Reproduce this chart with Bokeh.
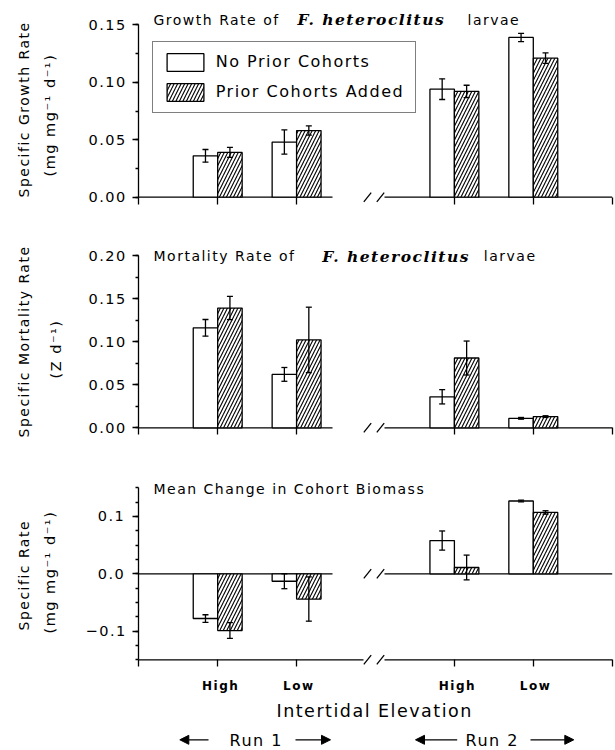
import math
from bokeh.plotting import figure
from bokeh.layouts import column
from bokeh.models import (Range1d, FixedTicker, CustomJSTickFormatter, Label, Legend,
                          LegendItem, Whisker, TeeHead, ColumnDataSource, Arrow,
                          NormalHead, InlineStyleSheet)
from bokeh.embed import file_html
from bokeh.resources import INLINE

# ---------------- data ----------------
runs = ["Run 1", "Run 1", "Run 2", "Run 2"]
elevations = ["High", "Low", "High", "Low"]
series_labels = ["No Prior Cohorts", "Prior Cohorts Added"]

growth_none = [0.036, 0.048, 0.094, 0.139]
growth_none_se = [0.0055, 0.0105, 0.009, 0.0036]
growth_prior = [0.039, 0.058, 0.092, 0.121]
growth_prior_se = [0.0044, 0.004, 0.0054, 0.0045]

mortality_none = [0.116, 0.062, 0.036, 0.011]
mortality_none_se = [0.0097, 0.008, 0.0083, 0.001]
mortality_prior = [0.139, 0.102, 0.081, 0.013]
mortality_prior_se = [0.0135, 0.038, 0.0197, 0.001]

biomass_none = [-0.078, -0.013, 0.058, 0.127]
biomass_none_se = [0.0066, 0.013, 0.0167, 0.0015]
biomass_prior = [-0.099, -0.044, 0.011, 0.107]
biomass_prior_se = [0.0138, 0.0386, 0.0216, 0.003]

growth_ticks = [0.0, 0.05, 0.10, 0.15]
mortality_ticks = [0.0, 0.05, 0.10, 0.15, 0.20]
biomass_ticks = [-0.1, 0.0, 0.1]

# ---------------- layout constants (page pixels) ----------------
FONT = "DejaVu Sans"
SERIF = "DejaVu Serif"
INK = "#000000"
W = 615
PX_X0, PX_X6 = 138.3, 611.7          # page x of the x = 0 and x = 6 ends of the axis
X_LO, X_HI = 0.0, 6.0
PX_X = (PX_X6 - PX_X0) / (X_HI - X_LO)
BAR_W = 0.31
LW = 1.3

run_names = ["Run 1", "Run 2"]
elev_names = ["High", "Low"]
centers = [1 + elev_names.index(e) + 3 * run_names.index(r) for r, e in zip(runs, elevations)]


def dx(px):
    """page x pixel -> data x"""
    return X_LO + (px - PX_X0) / PX_X


BREAK_SLASHES = [dx(367), dx(380)]
LEFT_STOP = dx(332)
RIGHT_START = dx(384)
BOTTOM_LEFT_STOP = dx(363)


def minor_between(lo, hi, step=0.025):
    n = int(round((hi - lo) / step))
    return [round(lo + i * step, 4) for i in range(n + 1)]


class Panel:
    def __init__(self, fig_top, fig_h, hi_px, lo_px, lo, hi):
        self.fig_top, self.fig_h = fig_top, fig_h
        self.hi_px, self.lo_px = hi_px, lo_px
        self.lo, self.hi = lo, hi
        self.ppu = (lo_px - hi_px) / (hi - lo)

    def dy(self, py):
        return self.hi - (py - self.hi_px) / self.ppu


def add_label(p, x, y, text, size, angle=0.0, align="left", baseline="middle",
              font=FONT, style="normal"):
    p.add_layout(Label(x=x, y=y, text=text, text_font=font, text_font_size=f"{size}px",
                       text_font_style=style, angle=angle, text_align=align,
                       text_baseline=baseline, text_color=INK))


def broken_line(p, y, stop, ppu):
    p.segment(x0=[X_LO, RIGHT_START], y0=[y, y], x1=[stop, X_HI], y1=[y, y],
              line_color=INK, line_width=LW)
    ddx = 3.7 / PX_X
    ddy = 4.6 / ppu
    p.segment(x0=[b - ddx for b in BREAK_SLASHES], y0=[y - ddy] * 2,
              x1=[b + ddx for b in BREAK_SLASHES], y1=[y + ddy] * 2,
              line_color=INK, line_width=LW)


def make_panel(g, major, digits, none_v, none_e, prior_v, prior_e, xlabels):
    ppu = g.ppu
    y_top = g.hi + (g.hi_px - g.fig_top) / ppu
    y_bot = g.lo - (g.fig_top + g.fig_h - g.lo_px) / ppu
    p = figure(width=W, height=g.fig_h, x_range=Range1d(dx(0), dx(W)),
               y_range=Range1d(y_bot, y_top),
               output_backend="svg", toolbar_location=None,
               min_border_left=0, min_border_right=0, min_border_top=0, min_border_bottom=0)
    p.grid.visible = False
    p.outline_line_color = None
    p.background_fill_color = "white"
    p.border_fill_color = "white"

    ya = p.yaxis[0]
    ya.fixed_location = X_LO
    ya.bounds = (g.lo, g.hi)
    ya.ticker = FixedTicker(ticks=major, minor_ticks=minor_between(g.lo, g.hi))
    ya.formatter = CustomJSTickFormatter(args=dict(d=digits),
                                         code="return tick.toFixed(d).replace('-', '\u2212');")
    ya.axis_line_color = INK
    ya.axis_line_width = LW
    ya.major_tick_line_color = INK
    ya.major_tick_line_width = LW
    ya.minor_tick_line_color = INK
    ya.minor_tick_line_width = LW
    ya.major_tick_out = 6
    ya.major_tick_in = 0
    ya.minor_tick_out = 3
    ya.minor_tick_in = 0
    ya.major_label_standoff = 12
    ya.major_label_text_font = FONT
    ya.major_label_text_font_size = "14.5px"
    ya.major_label_text_color = INK

    xa = p.xaxis[0]
    xa.fixed_location = g.lo
    xa.axis_line_color = None
    xa.ticker = FixedTicker(ticks=[X_LO] + centers + [X_HI], minor_ticks=[])
    xa.formatter = CustomJSTickFormatter(
        args=dict(pos=centers, labels=xlabels),
        code="const i = pos.indexOf(tick); return i < 0 ? '' : labels[i];")
    xa.major_tick_line_color = INK
    xa.major_tick_line_width = LW
    xa.minor_tick_line_color = None
    xa.major_tick_out = 7
    xa.major_tick_in = 0
    xa.major_label_standoff = 12
    xa.major_label_text_font = FONT
    xa.major_label_text_font_size = "12px"
    xa.major_label_text_font_style = "bold"
    xa.major_label_text_color = INK

    broken_line(p, 0.0, LEFT_STOP, ppu)

    xs_none = [c - BAR_W / 2 for c in centers]
    xs_prior = [c + BAR_W / 2 for c in centers]
    src = ColumnDataSource(dict(
        xn=xs_none, xp=xs_prior, vn=none_v, vp=prior_v,
        un=[v + e for v, e in zip(none_v, none_e)], ln=[v - e for v, e in zip(none_v, none_e)],
        up=[v + e for v, e in zip(prior_v, prior_e)], lp=[v - e for v, e in zip(prior_v, prior_e)]))
    rn = p.vbar(x="xn", top="vn", bottom=0, width=BAR_W, source=src, fill_color="white",
                line_color=INK, line_width=LW)
    rp = p.vbar(x="xp", top="vp", bottom=0, width=BAR_W, source=src, fill_color="white",
                line_color=INK, line_width=LW, hatch_pattern="/", hatch_color=INK,
                hatch_scale=7, hatch_weight=1.1)
    for base, upc, lowc in (("xn", "un", "ln"), ("xp", "up", "lp")):
        p.add_layout(Whisker(source=src, base=base, upper=upc, lower=lowc, dimension="height",
                             line_color=INK, line_width=LW, level="annotation",
                             upper_head=TeeHead(size=6, line_color=INK, line_width=LW),
                             lower_head=TeeHead(size=6, line_color=INK, line_width=LW)))
    return p, rn, rp


blank = [""] * len(centers)
ROT = math.pi / 2

# ---------------- panel 1: growth ----------------
g1 = Panel(0, 225, 24.3, 196.7, 0.0, 0.15)
p1, rn1, rp1 = make_panel(g1, growth_ticks, 2, growth_none, growth_none_se,
                          growth_prior, growth_prior_se, blank)
add_label(p1, dx(153), g1.dy(19), "Growth Rate of", 14)
add_label(p1, dx(297), g1.dy(19), "F. heteroclitus", 15.5, font=SERIF, style="bold italic")
add_label(p1, dx(467), g1.dy(19), "larvae", 14)
add_label(p1, dx(23.5), g1.dy(197), "Specific Growth Rate", 14, angle=ROT)
add_label(p1, dx(49), g1.dy(176), "(mg mg\u207b\u00b9 d\u207b\u00b9)", 14.5, angle=ROT)
legend = Legend(items=[LegendItem(label=series_labels[0], renderers=[rn1]),
                       LegendItem(label=series_labels[1], renderers=[rp1])],
                location=(151.7, 225 - 112.7), glyph_width=46, glyph_height=22,
                label_standoff=8, padding=9, spacing=8, label_width=190, label_height=22,
                label_text_font=FONT, label_text_font_size="16px", label_text_color=INK,
                border_line_color=INK, border_line_width=LW,
                background_fill_color="white", background_fill_alpha=1.0, margin=0)
p1.add_layout(legend)

# ---------------- panel 2: mortality ----------------
g2 = Panel(225, 230, 255.0, 427.3, 0.0, 0.20)
p2, rn2, rp2 = make_panel(g2, mortality_ticks, 2, mortality_none, mortality_none_se,
                          mortality_prior, mortality_prior_se, blank)
add_label(p2, dx(153), g2.dy(255.7), "Mortality Rate of", 14)
add_label(p2, dx(321.7), g2.dy(255.7), "F. heteroclitus", 15.5, font=SERIF, style="bold italic")
add_label(p2, dx(483.3), g2.dy(255.7), "larvae", 14)
add_label(p2, dx(23.5), g2.dy(437), "Specific Mortality Rate", 14, angle=ROT)
add_label(p2, dx(55), g2.dy(378), "(Z d\u207b\u00b9)", 14.5, angle=ROT)

# ---------------- panel 3: biomass ----------------
g3 = Panel(455, 295, 487.3, 659.3, -0.15, 0.15)
p3, rn3, rp3 = make_panel(g3, biomass_ticks, 1, biomass_none, biomass_none_se,
                          biomass_prior, biomass_prior_se, elevations)
broken_line(p3, g3.lo, BOTTOM_LEFT_STOP, g3.ppu)
add_label(p3, dx(153), g3.dy(488.3), "Mean Change in Cohort Biomass", 14)
add_label(p3, dx(23.5), g3.dy(630), "Specific Rate", 14, angle=ROT)
add_label(p3, dx(49), g3.dy(633), "(mg mg\u207b\u00b9 d\u207b\u00b9)", 14.5, angle=ROT)
add_label(p3, dx(276), g3.dy(710.8), "Intertidal Elevation", 17.5)
add_label(p3, dx(229), g3.dy(739.6), run_names[0], 16)
add_label(p3, dx(465), g3.dy(739.6), run_names[1], 16)
ay = g3.dy(739.3)
for xs, xe in ((208, 179.3), (295, 330), (456.7, 415), (530, 573.3)):
    p3.add_layout(Arrow(x_start=dx(xs), y_start=ay, x_end=dx(xe), y_end=ay,
                        line_color=INK, line_width=LW,
                        end=NormalHead(size=9, fill_color=INK, line_color=INK, line_width=1)))

layout = column(p1, p2, p3, spacing=0,
                stylesheets=[InlineStyleSheet(css=":host { letter-spacing: 1.5px; }")])

with open("out.html", "w") as f:
    f.write(file_html(layout, INLINE))
